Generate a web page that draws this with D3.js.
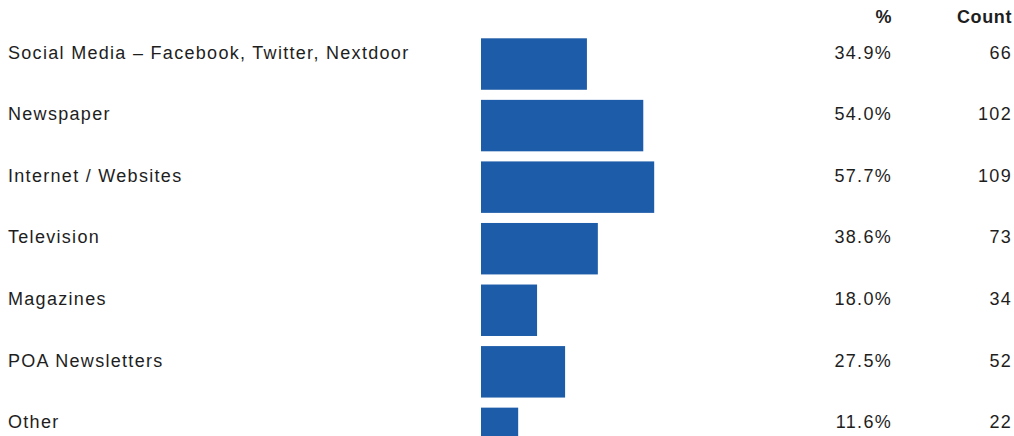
<!DOCTYPE html>
<html><head><meta charset="utf-8">
<script src="https://cdn.jsdelivr.net/npm/d3@7"></script>
<style>body{margin:0;background:#fff}svg{display:block}</style>
</head><body>
<script>
const categories = ["Social Media – Facebook, Twitter, Nextdoor","Newspaper","Internet / Websites","Television","Magazines","POA Newsletters","Other"];
const percents = [34.9, 54.0, 57.7, 38.6, 18.0, 27.5, 11.6];
const counts = [66, 102, 109, 73, 34, 52, 22];
const headers = ["%", "Count"];

const W = 1014, H = 436;
const svg = d3.select("body").append("svg").attr("width", W).attr("height", H);
const font = "'Liberation Sans', Arial, sans-serif";
const fs = 18;
const ls = 1.3;
const textColor = "#1e1e1e";

const y = d3.scaleBand().domain(categories).range([38.3, 459.1]).paddingInner(0.164).paddingOuter(0);
const x = d3.scaleLinear().domain([-1, 100]).range([481, 779]);

const data = categories.map((c, i) => ({c, p: percents[i], n: counts[i]}));

svg.selectAll("rect.bar").data(data).join("rect").attr("class","bar")
  .attr("x", x(-1)).attr("y", d => y(d.c))
  .attr("width", d => x(d.p) - x(-1)).attr("height", y.bandwidth())
  .attr("fill", "#1d5ca8");

const rowY = d => y(d.c) + 14.5;

function styleText(sel) {
  return sel.attr("dominant-baseline","central")
    .attr("font-family", font).attr("font-size", fs)
    .attr("letter-spacing", ls).attr("fill", textColor);
}

styleText(svg.selectAll("text.lab").data(data).join("text").attr("class","lab")
  .attr("x", 8).attr("y", rowY)).text(d => d.c);

styleText(svg.selectAll("text.pct").data(data).join("text").attr("class","pct")
  .attr("x", 892).attr("y", rowY).attr("text-anchor","end"))
  .text(d => d3.format(".1f")(d.p) + "%");

styleText(svg.selectAll("text.cnt").data(data).join("text").attr("class","cnt")
  .attr("x", 1012).attr("y", rowY).attr("text-anchor","end"))
  .text(d => d.n);

styleText(svg.selectAll("text.hdr").data(headers).join("text").attr("class","hdr")
  .attr("x", (d, i) => i === 0 ? 892 : 1012).attr("y", 17).attr("text-anchor","end"))
  .attr("font-weight","bold").attr("letter-spacing", 0.6)
  .text(d => d);
</script>
</body></html>
